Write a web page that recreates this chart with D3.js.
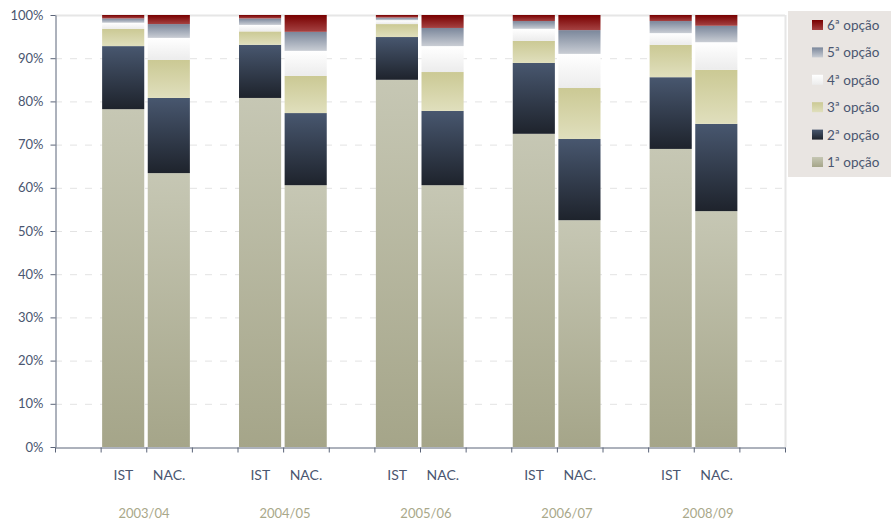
<!DOCTYPE html>
<html><head><meta charset="utf-8">
<script src="https://cdn.jsdelivr.net/npm/d3@7"></script>
<style>
html,body{margin:0;padding:0;background:#fff;}
svg{display:block;}
text{font-family:Lato,"Open Sans",sans-serif;}
</style></head>
<body>
<svg id="chart" width="891" height="520"></svg>
<script>
const years = ["2003/04","2004/05","2005/06","2006/07","2008/09"];
const groups = ["IST","NAC."];
const series = ["1ª opção","2ª opção","3ª opção","4ª opção","5ª opção","6ª opção"];
// values per bar (order: 2003/04 IST, NAC., 2004/05 IST, NAC., ...)
const opt1 = [78.2, 63.4, 80.8, 60.6, 85.0, 60.6, 72.5, 52.5, 69.0, 54.6];
const opt2 = [14.6, 17.4, 12.3, 16.7,  9.9, 17.2, 16.4, 18.8, 16.6, 20.2];
const opt3 = [ 4.0,  8.8,  3.1,  8.6,  3.0,  9.0,  5.1, 11.8,  7.5, 12.5];
const opt4 = [ 1.4,  5.1,  1.5,  5.8,  0.9,  6.0,  2.8,  7.9,  2.7,  6.4];
const opt5 = [ 1.0,  3.2,  1.5,  4.4,  0.6,  4.2,  1.8,  5.5,  2.8,  3.8];
const opt6 = [ 0.8,  2.1,  0.8,  3.9,  0.6,  3.0,  1.4,  3.5,  1.4,  2.5];
const yTicks = [0,10,20,30,40,50,60,70,80,90,100];

const grads = [
  ["#c6c7b4","#a5a589"],
  ["#48576f","#1e232c"],
  ["#cbc994","#e0dfbd"],
  ["#ffffff","#ececec"],
  ["#7b879b","#c9cdd4"],
  ["#780000","#a54242"]
];

const svg = d3.select("#chart");
const defs = svg.append("defs");
grads.forEach((g,i)=>{
  const lg = defs.append("linearGradient").attr("id","g"+i)
    .attr("x1",0).attr("y1",0).attr("x2",0).attr("y2",1);
  lg.append("stop").attr("offset","0%").attr("stop-color",g[0]);
  lg.append("stop").attr("offset","100%").attr("stop-color",g[1]);
});

const mLeft = 55, mRight = 785, mTop = 15, mBottom = 447;
const nSlots = 16;
const y = d3.scaleLinear().domain([0,100]).range([mBottom, mTop]);
const xSlot = d3.scaleBand().domain(d3.range(nSlots)).range([mLeft,mRight]).padding(0);
const xLin = d3.scaleLinear().domain([0,nSlots]).range([mLeft,mRight]);

// gridlines
svg.append("g").selectAll("line").data(yTicks.filter(t=>t>0)).join("line")
  .attr("x1",mLeft).attr("x2",mRight)
  .attr("y1",d=>y(d)+0.5).attr("y2",d=>y(d)+0.5)
  .attr("stroke",d=>d===100?"#e6e6e6":"#e3e3e3")
  .attr("stroke-width",d=>d===100?2:1)
  .attr("stroke-dasharray",d=>d===100?null:"7,8");
// right border
svg.append("line").attr("x1",mRight+0.5).attr("x2",mRight+0.5).attr("y1",mTop).attr("y2",mBottom)
  .attr("stroke","#e6e6e6").attr("stroke-width",2);

// bars
const all = [opt1,opt2,opt3,opt4,opt5,opt6];
const bars = [];
years.forEach((yr,gi)=>{
  groups.forEach((grp,ci)=>{
    const idx = gi*2+ci;
    const slot = gi*3+1+ci;
    let acc = 0;
    all.forEach((arr,si)=>{
      const v = arr[idx];
      bars.push({slot, si, y0:acc, y1:acc+v});
      acc += v;
    });
  });
});
const bw = xSlot.bandwidth();
svg.append("g").selectAll("rect").data(bars).join("rect")
  .attr("x",d=>xSlot(d.slot)+1.5)
  .attr("width",bw-3.5)
  .attr("y",d=>y(Math.min(d.y1,100)))
  .attr("height",d=>y(d.y0)-y(Math.min(d.y1,100)))
  .attr("fill",d=>`url(#g${d.si})`);

const axisColor = "#5b6478";
const textColor = "#4a5670";
// y axis
const ya = svg.append("g").attr("transform",`translate(${mLeft+0.5},0)`)
  .call(d3.axisLeft(y).tickValues(yTicks).tickFormat(d=>d+"%").tickSize(5).tickPadding(7).tickSizeOuter(0));
ya.select(".domain").attr("stroke",axisColor);
ya.selectAll(".tick line").attr("stroke",axisColor);
ya.selectAll("text").attr("fill",textColor).attr("font-size",13).attr("font-family","Lato,'Open Sans',sans-serif");

// x axis
const xa = svg.append("g").attr("transform",`translate(0,${mBottom+0.5})`)
  .call(d3.axisBottom(xLin).tickValues(d3.range(nSlots+1)).tickFormat("").tickSize(5).tickSizeOuter(0));
xa.select(".domain").attr("stroke",axisColor);
xa.selectAll(".tick line").attr("stroke",axisColor);

// category labels
const catLabels = [];
years.forEach((yr,gi)=>groups.forEach((g,ci)=>catLabels.push({t:g, slot:gi*3+1+ci})));
svg.append("g").selectAll("text").data(catLabels).join("text")
  .attr("x",d=>xSlot(d.slot)+bw/2).attr("y",480)
  .attr("text-anchor","middle").attr("font-size",14).attr("fill",textColor)
  .text(d=>d.t);
svg.append("g").selectAll("text").data(years).join("text")
  .attr("x",(d,i)=>xLin(1.95+3.09*i)).attr("y",518)
  .attr("text-anchor","middle").attr("font-size",13).attr("fill","#a9a88a")
  .text(d=>d);

// legend
const lg = svg.append("g");
lg.append("rect").attr("x",788).attr("y",11).attr("width",103).attr("height",166).attr("fill","#e9e5e2");
const legItems = series.map((s,i)=>({s,i})).reverse();
const li = lg.selectAll("g").data(legItems).join("g")
  .attr("transform",(d,k)=>`translate(812,${20+k*27.4})`);
li.append("rect").attr("width",11).attr("height",10).attr("fill",d=>`url(#g${d.i})`);
li.append("text").attr("x",15).attr("y",10).attr("font-size",13.5).attr("fill",textColor).text(d=>d.s);
</script>
</body></html>
